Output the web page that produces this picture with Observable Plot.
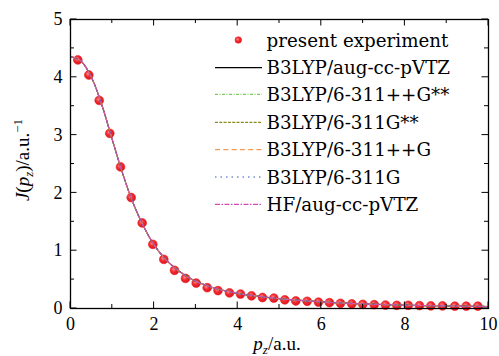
<!DOCTYPE html>
<html><head><meta charset="utf-8">
<script src="https://cdn.jsdelivr.net/npm/d3@7"></script>
<script src="https://cdn.jsdelivr.net/npm/@observablehq/plot@0.6"></script>
<style>
body{margin:0;background:#fff}
#chart svg{font-family:"Liberation Serif",serif;overflow:visible}
</style>
</head><body><div id="chart"></div>
<script>
// Experimental Compton profile
const expX = [0.175,0.438,0.687,0.940,1.196,1.452,1.715,1.969,2.232,2.488,2.751,3.007,3.270,3.529,3.804,4.067,4.330,4.593,4.864,5.127,5.390,5.662,5.933,6.196,6.459,6.730,6.993,7.265,7.536,7.806,8.079,8.349,8.620,8.900,9.194,9.467,9.744];
const expY = [4.30,4.04,3.60,3.03,2.45,1.92,1.48,1.11,0.85,0.66,0.52,0.44,0.36,0.31,0.27,0.25,0.22,0.19,0.18,0.15,0.13,0.125,0.11,0.10,0.09,0.08,0.072,0.067,0.06,0.055,0.055,0.05,0.045,0.045,0.04,0.04,0.04];
// Theoretical profiles (all overlap visually)
const theoryX = [0,0.25,0.5,0.75,1.0,1.25,1.5,1.75,2.0,2.25,2.5,2.75,3.0,3.25,3.5,3.75,4.0,4.5,5.0,5.5,6.0,6.5,7.0,7.5,8.0,8.5,9.0,9.5,10.0];
const theoryY = [4.36,4.28,4.00,3.52,2.92,2.33,1.82,1.42,1.10,0.87,0.70,0.57,0.47,0.40,0.34,0.30,0.26,0.21,0.17,0.14,0.115,0.095,0.08,0.068,0.058,0.05,0.044,0.039,0.035];
const seriesNames = ["B3LYP/aug-cc-pVTZ","B3LYP/6-311++G**","B3LYP/6-311G**","B3LYP/6-311++G","B3LYP/6-311G","HF/aug-cc-pVTZ"];
const expName = "present experiment";
const xTicks = [0,2,4,6,8,10];
const xMinor = [1,3,5,7,9];
const yTicks = [0,1,2,3,4,5];
const yMinor = [0.5,1.5,2.5,3.5,4.5];

const styles = [
  {stroke:"#000000", dash:null, w:1.1},
  {stroke:"#7dcc5a", dash:"3,1.5,1,1.5", w:1.1},
  {stroke:"#8a8a20", dash:"3,1.3", w:1.1},
  {stroke:"#f79a50", dash:"5,3.3", w:1.1},
  {stroke:"#3355bb", dash:"1.5,4", w:1.1},
  {stroke:"#d04cb0", dash:"5,1.5,1.5,1.5", w:1.1}
];

const expData = expX.map((x,i)=>({x, y: expY[i]}));
const theory = seriesNames.map((name,k)=>({name, pts: theoryX.map((x,i)=>({x, y: theoryY[i]}))}));

const lineMarks = theory.map((s,k)=>Plot.line(s.pts,{x:"x",y:"y",stroke:styles[k].stroke,strokeWidth:styles[k].w,strokeDasharray:styles[k].dash,curve:"catmull-rom"}));

const chart = Plot.plot({
  width:499, height:356,
  marginLeft:70, marginRight:11, marginTop:19, marginBottom:48,
  x:{domain:[0,10]},
  y:{domain:[0,5]},
  style:{fontSize:"17px", fontFamily:"'Liberation Serif', serif", color:"#000"},
  marks:[
    Plot.axisX({ticks:xTicks, tickSize:0, tickPadding:9, fontSize:18, tickFormat:d3.format("d"), label:null}),
    Plot.axisY({ticks:yTicks, tickSize:0, tickPadding:8, fontSize:18, tickFormat:d3.format("d"), label:null}),
    Plot.dot(expData,{x:"x",y:"y",r:4.4,fill:"url(#ball)",stroke:"#ea1c24",strokeWidth:0.6}),
    ...lineMarks,
    Plot.frame({stroke:"#000",strokeWidth:1.3})
  ]
});
document.getElementById("chart").appendChild(chart);

const svg = d3.select(chart);
const sx = chart.scale("x"), sy = chart.scale("y");
const defs = svg.insert("defs",":first-child");
const g = defs.append("radialGradient").attr("id","ball").attr("cx","40%").attr("cy","38%").attr("r","65%");
g.append("stop").attr("offset","0%").attr("stop-color","#ff8c8c");
g.append("stop").attr("offset","45%").attr("stop-color","#f22a30");
g.append("stop").attr("offset","100%").attr("stop-color","#dc141c");

// inward ticks on all four sides, positioned by the plot's scales
const tg = svg.append("g").attr("stroke","#000").attr("stroke-width",1);
const x0 = sx.apply(0), x1 = sx.apply(10), y0 = sy.apply(0), y1 = sy.apply(5);
[[xTicks,6.5],[xMinor,4]].forEach(([arr,len])=>arr.forEach(v=>{
  const px = sx.apply(v);
  tg.append("line").attr("x1",px).attr("x2",px).attr("y1",y0).attr("y2",y0-len);
  tg.append("line").attr("x1",px).attr("x2",px).attr("y1",y1).attr("y2",y1+len);
}));
[[yTicks,6.5],[yMinor,4]].forEach(([arr,len])=>arr.forEach(v=>{
  const py = sy.apply(v);
  tg.append("line").attr("y1",py).attr("y2",py).attr("x1",x0).attr("x2",x0+len);
  tg.append("line").attr("y1",py).attr("y2",py).attr("x1",x1).attr("x2",x1-len);
}));

// axis titles
const fam = "'Liberation Serif', serif";
const xt = svg.append("text").attr("x",277).attr("y",350).attr("text-anchor","middle")
  .attr("font-family",fam).attr("font-size",19).attr("fill","#000");
xt.append("tspan").attr("font-style","italic").text("p");
xt.append("tspan").attr("font-style","italic").attr("font-size",13).attr("dy",4).text("z");
xt.append("tspan").attr("dy",-4).text("/a.u.");

const yt = svg.append("text").attr("transform","translate(29,160) rotate(-90)").attr("text-anchor","middle")
  .attr("font-family",fam).attr("font-size",19).attr("fill","#000");
yt.append("tspan").attr("font-style","italic").text("J");
yt.append("tspan").text("(");
yt.append("tspan").attr("font-style","italic").text("p");
yt.append("tspan").attr("font-style","italic").attr("font-size",13).attr("dy",4).text("z");
yt.append("tspan").attr("dy",-4).text(")/a.u.");
yt.append("tspan").attr("font-size",13).attr("dy",-7).text("−1");

// legend
const lg = svg.append("g").attr("font-family","'DejaVu Serif', serif").attr("font-size",18.3).attr("fill","#000").attr("text-anchor","start");
const rowY = [40,67.7,94.3,122.3,149.7,177,204.3];
lg.append("circle").attr("cx",238.3).attr("cy",rowY[0]).attr("r",3.3).attr("fill","url(#ball)").attr("stroke","#ea1c24").attr("stroke-width",0.5);
lg.append("text").attr("x",266.5).attr("y",rowY[0]).attr("dy","0.36em").text(expName);
seriesNames.forEach((name,k)=>{
  const y = rowY[k+1];
  lg.append("line").attr("x1",215).attr("x2",262).attr("y1",y).attr("y2",y)
    .attr("stroke",styles[k].stroke).attr("stroke-width",1.2).attr("stroke-dasharray",styles[k].dash);
  lg.append("text").attr("x",266.5).attr("y",y).attr("dy","0.36em").text(name);
});
</script>
</body></html>
